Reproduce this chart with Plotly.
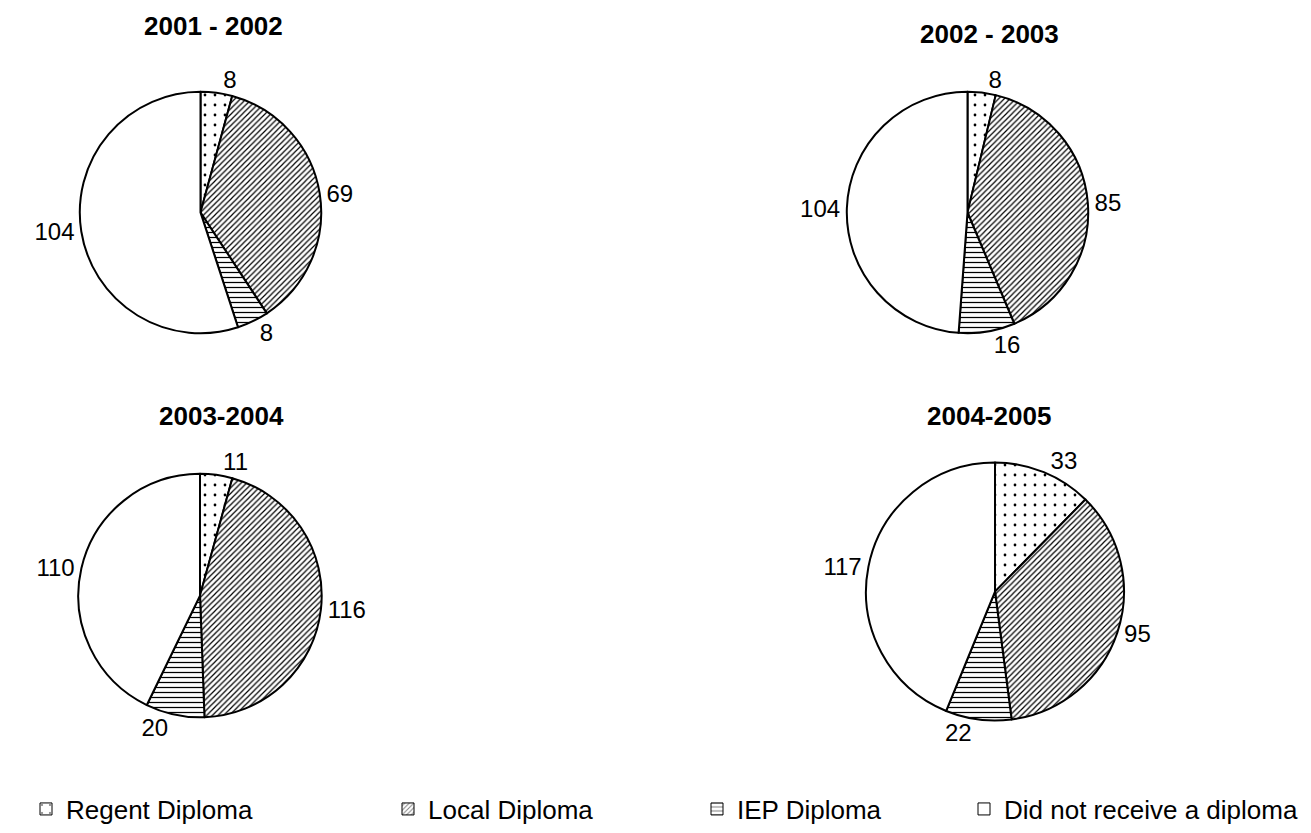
import plotly.graph_objects as go

categories = ["Regent Diploma", "Local Diploma", "IEP Diploma", "Did not receive a diploma"]
years = ["2001 - 2002", "2002 - 2003", "2003-2004", "2004-2005"]
v_2001_2002 = [8, 69, 8, 104]
v_2002_2003 = [8, 85, 16, 104]
v_2003_2004 = [11, 116, 20, 110]
v_2004_2005 = [33, 95, 22, 117]
series = [v_2001_2002, v_2002_2003, v_2003_2004, v_2004_2005]

W, H = 1311, 833
FONT = "Liberation Sans, Arial, sans-serif"
# pie boxes in pixels: (left, right, top, bottom)
boxes = [(79, 322, 92, 334), (846, 1089, 92, 334), (78, 322, 475, 719), (866, 1124, 463, 723)]
title_pos = [(213, 26), (989, 34), (221, 417), (989, 417)]
legend_text_x = [68, 430, 739, 1006]

shapes = [".", "/", "-", ""]
sizes = [10, 4, 5, 8]
solid = [0.06, 0.3, 0.25, 0.3]
pattern = dict(shape=shapes, fgcolor="black", bgcolor="white", size=sizes, solidity=solid)

fig = go.Figure()
for i, (vals, box) in enumerate(zip(series, boxes)):
    l, r, t, b = box
    fig.add_trace(go.Pie(
        labels=categories,
        values=vals,
        sort=False,
        direction="clockwise",
        rotation=0,
        textinfo="value",
        textposition="outside",
        textfont=dict(family=FONT, size=24, color="black"),
        marker=dict(colors=["white"] * 4, line=dict(color="black", width=2), pattern=pattern),
        domain=dict(x=[l / W, r / W], y=[1 - b / H, 1 - t / H]),
        showlegend=False,
        hoverinfo="skip",
    ))

# legend entries (one legend per category so they can be spaced like the original)
legend_layout = {}
for k, cat in enumerate(categories):
    lname = "legend" if k == 0 else f"legend{k + 1}"
    fig.add_trace(go.Bar(
        x=[None], y=[None], name=cat, legend=lname, showlegend=True,
        marker=dict(color="white", line=dict(color="black", width=1),
                    pattern=dict(shape=shapes[k], fgcolor="black", bgcolor="white",
                                 size=sizes[k], solidity=solid[k])),
        hoverinfo="skip",
    ))
    legend_layout[lname] = dict(
        x=(legend_text_x[k] - 42) / W, y=1 - 811 / H, xanchor="left", yanchor="middle",
        orientation="h", bgcolor="rgba(0,0,0,0)",
        font=dict(family=FONT, size=26, color="black"),
    )

for (tx, ty), name in zip(title_pos, years):
    fig.add_annotation(x=tx / W, y=1 - ty / H, xref="paper", yref="paper",
                       xanchor="center", yanchor="middle",
                       text="<b>" + name + "</b>", showarrow=False,
                       font=dict(family=FONT, size=26, color="black"))

fig.update_layout(
    width=W, height=H,
    margin=dict(l=0, r=0, t=0, b=0),
    paper_bgcolor="white", plot_bgcolor="white",
    xaxis=dict(visible=False), yaxis=dict(visible=False),
    **legend_layout,
)
fig.write_html("out.html", config={"displayModeBar": False},
               post_script="document.body.style.margin='0px';")
